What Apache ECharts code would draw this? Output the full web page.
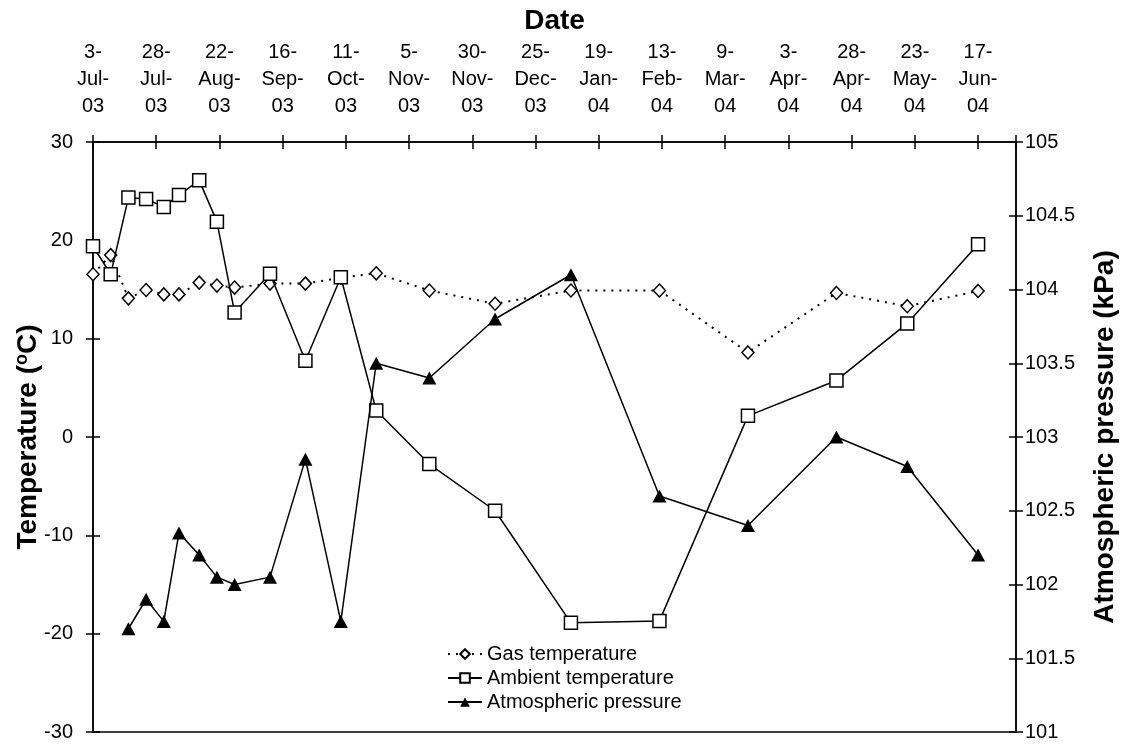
<!DOCTYPE html>
<html>
<head>
<meta charset="utf-8">
<script src="https://cdn.jsdelivr.net/npm/echarts@6/dist/echarts.min.js"></script>
<style>html,body{margin:0;padding:0;background:#fff}#c{width:1131px;height:745px}</style>
</head>
<body>
<div id="c"></div>
<script>
var startDate = '2003-07-03';
var dates = ['2003-07-03','2003-07-10','2003-07-17','2003-07-24','2003-07-31','2003-08-06','2003-08-14','2003-08-21','2003-08-28','2003-09-11','2003-09-25','2003-10-09','2003-10-23','2003-11-13','2003-12-09','2004-01-08','2004-02-12','2004-03-18','2004-04-22','2004-05-20','2004-06-17'];
var gasTemp = [16.55,18.5,14.1,14.95,14.5,14.5,15.7,15.4,15.2,15.6,15.6,16.2,16.65,14.9,13.55,14.9,14.9,8.6,14.65,13.3,14.85];
var ambientTemp = [19.4,16.55,24.35,24.2,23.4,24.6,26.1,21.9,12.65,16.6,7.75,16.25,2.7,-2.75,-7.5,-18.9,-18.7,2.15,5.75,11.55,19.6];
var pressure = [null,null,101.7,101.9,101.75,102.35,102.2,102.05,102.0,102.05,102.85,101.75,103.5,103.4,103.8,104.1,102.6,102.4,103.0,102.8,102.2];
var months = ['Jan','Feb','Mar','Apr','May','Jun','Jul','Aug','Sep','Oct','Nov','Dec'];

var DAY = 86400000;
function toMs(s){var p=s.split('-');return Date.UTC(+p[0],+p[1]-1,+p[2]);}
var t0 = toMs(startDate);
function dayOf(s){return Math.round((toMs(s)-t0)/DAY);}
function fmt(d){var dt=new Date(t0+d*DAY);var y=String(dt.getUTCFullYear()).slice(2);return dt.getUTCDate()+'-\n'+months[dt.getUTCMonth()]+'-\n'+y;}
function pairs(vals){return dates.map(function(s,i){return [dayOf(s),vals[i]];}).filter(function(p){return p[1]!==null;});}

var font = 'Liberation Sans, Arial, sans-serif';
var titleSize = 28;
var tickStyle = {color:'#000',width:1.5};
function innerY(min,max,iv,pos){
  return {type:'value',min:min,max:max,interval:iv,position:pos,
    axisLine:{show:false,onZero:false},axisLabel:{show:false},splitLine:{show:false},
    axisTick:{show:true,inside:true,length:7,lineStyle:tickStyle}};
}
var chart = echarts.init(document.getElementById('c'));
chart.setOption({
  animation:false,
  backgroundColor:'#fff',
  textStyle:{fontFamily:font},
  grid:{left:93,right:115,top:142,bottom:13,show:true,borderColor:'#000',borderWidth:1.5,backgroundColor:'transparent'},
  legend:{
    orient:'vertical', left:447, top:643, itemGap:2, padding:0,
    itemWidth:34, itemHeight:12,
    textStyle:{fontSize:20,color:'#000',fontFamily:font,lineHeight:22},
    data:['Gas temperature','Ambient temperature','Atmospheric pressure']
  },
  xAxis:[{
    type:'value', position:'top', min:0, max:365, interval:25,
    name:'Date', nameLocation:'middle', nameGap:107, nameMoveOverlap:false,
    nameTextStyle:{fontSize:titleSize,fontWeight:'bold',color:'#000',fontFamily:font},
    axisLine:{onZero:false,lineStyle:{color:'#000',width:1.5}},
    axisTick:{length:7,lineStyle:tickStyle},
    splitLine:{show:false},
    axisLabel:{color:'#000',fontSize:20,lineHeight:27,margin:22,fontFamily:font,
      formatter:function(v){return v<=350?fmt(v):'';}}
  },{
    type:'value', position:'top', min:0, max:365, interval:25,
    axisLine:{show:false,onZero:false}, axisLabel:{show:false}, splitLine:{show:false},
    axisTick:{inside:true,length:7,lineStyle:tickStyle}
  }],
  yAxis:[{
    type:'value', min:-30, max:30, interval:10, position:'left',
    name:'{a|Temperature (}{s|o}{a|C)}', nameLocation:'middle', nameGap:50, nameRotate:90,
    nameMoveOverlap:false,
    nameTextStyle:{rich:{
      a:{fontSize:titleSize,fontWeight:'bold',color:'#000',fontFamily:font},
      s:{fontSize:18,fontWeight:'bold',color:'#000',fontFamily:font,verticalAlign:'bottom',padding:[0,0,12,0]}
    }},
    axisLine:{show:true,onZero:false,lineStyle:{color:'#000',width:1.5}},
    axisTick:{show:true,length:7,lineStyle:tickStyle},
    splitLine:{show:false},
    axisLabel:{color:'#000',fontSize:20,margin:20,fontFamily:font}
  },{
    type:'value', min:101, max:105, interval:0.5, position:'right',
    name:'Atmospheric pressure (kPa)', nameLocation:'middle', nameGap:75, nameRotate:90,
    nameMoveOverlap:false,
    nameTextStyle:{fontSize:titleSize,fontWeight:'bold',color:'#000',fontFamily:font},
    axisLine:{show:true,onZero:false,lineStyle:{color:'#000',width:1.5}},
    axisTick:{show:true,length:7,lineStyle:tickStyle},
    splitLine:{show:false},
    axisLabel:{color:'#000',fontSize:20,margin:9,fontFamily:font}
  },
  innerY(-30,30,10,'left'),
  innerY(101,105,0.5,'right')
  ],
  series:[{
    name:'Gas temperature', type:'line', xAxisIndex:0, yAxisIndex:0,
    data:pairs(gasTemp), symbol:'diamond', symbolSize:[12,13],
    itemStyle:{color:'#fff',borderColor:'#000',borderWidth:1.5},
    lineStyle:{color:'#000',width:2,type:[2,6]}, z:3
  },{
    name:'Ambient temperature', type:'line', xAxisIndex:0, yAxisIndex:0,
    data:pairs(ambientTemp), symbol:'rect', symbolSize:13,
    itemStyle:{color:'#fff',borderColor:'#000',borderWidth:1.5},
    lineStyle:{color:'#000',width:1.5}, z:4
  },{
    name:'Atmospheric pressure', type:'line', xAxisIndex:0, yAxisIndex:1,
    data:pairs(pressure), symbol:'triangle', symbolSize:[14,13],
    itemStyle:{color:'#000',borderColor:'#000',borderWidth:0},
    lineStyle:{color:'#000',width:1.5}, z:5
  }]
});
</script>
</body>
</html>
